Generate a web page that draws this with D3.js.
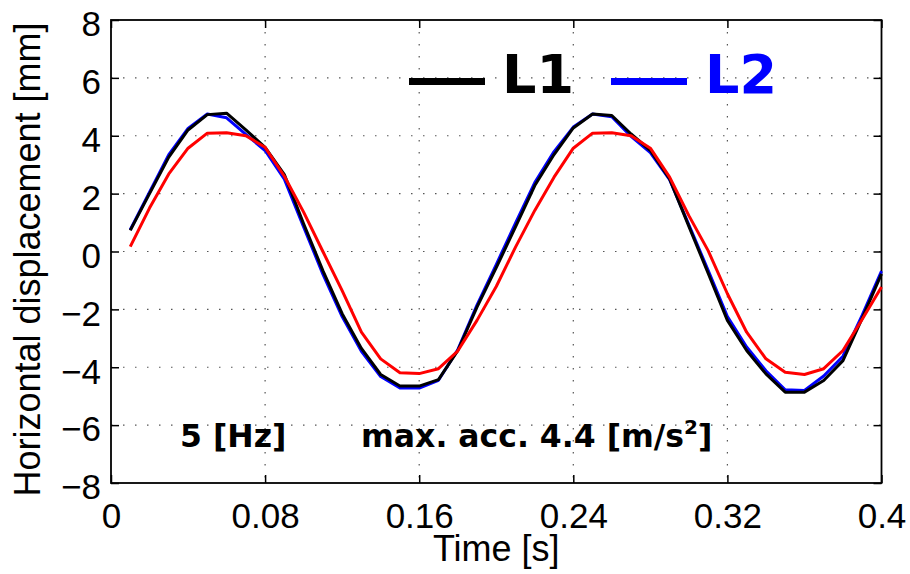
<!DOCTYPE html>
<html>
<head>
<meta charset="utf-8">
<script src="https://cdn.jsdelivr.net/npm/d3@7"></script>
<style>
  body { margin: 0; background: #fff; }
  svg { display: block; }
</style>
</head>
<body>
<div id="chart"></div>
<script>
// sample times [s]
var times = [0.01, 0.02, 0.03, 0.04, 0.05, 0.06, 0.07, 0.08, 0.09, 0.10,
             0.11, 0.12, 0.13, 0.14, 0.15, 0.16, 0.17, 0.18, 0.19, 0.20,
             0.21, 0.22, 0.23, 0.24, 0.25, 0.26, 0.27, 0.28, 0.29, 0.30,
             0.31, 0.32, 0.33, 0.34, 0.35, 0.36, 0.37, 0.38, 0.39, 0.40];

// L1 (black)
var l1 = [0.73, 2.00, 3.26, 4.20, 4.73, 4.78, 4.20, 3.60, 2.66, 0.96,
          -0.66, -2.15, -3.35, -4.25, -4.65, -4.65, -4.43, -3.43, -1.92, -0.56,
          0.85, 2.28, 3.35, 4.27, 4.75, 4.70, 4.06, 3.49, 2.51, 0.87,
          -0.75, -2.38, -3.42, -4.23, -4.86, -4.86, -4.46, -3.77, -2.30, -0.77];

// L2 (blue)
var l2 = [0.75, 2.05, 3.35, 4.25, 4.75, 4.62, 4.05, 3.49, 2.50, 0.85,
          -0.78, -2.25, -3.45, -4.32, -4.72, -4.72, -4.45, -3.40, -1.85, -0.45,
          0.98, 2.38, 3.45, 4.30, 4.75, 4.66, 3.98, 3.42, 2.48, 0.92,
          -0.65, -2.25, -3.30, -4.12, -4.78, -4.80, -4.30, -3.62, -2.20, -0.68];

// reference (red)
var ref = [0.17, 1.50, 2.68, 3.57, 4.09, 4.10, 4.00, 3.60, 2.60, 1.36,
           0.00, -1.35, -2.79, -3.71, -4.19, -4.22, -4.05, -3.44, -2.38, -1.21,
           0.15, 1.42, 2.57, 3.57, 4.09, 4.10, 4.00, 3.57, 2.57, 1.24,
           0.03, -1.46, -2.79, -3.71, -4.17, -4.25, -4.05, -3.42, -2.34, -1.23];

var xTicks = [0, 0.08, 0.16, 0.24, 0.32, 0.4];
var xTickLabels = ["0", "0.08", "0.16", "0.24", "0.32", "0.4"];
var yTicks = [-8, -6, -4, -2, 0, 2, 4, 6, 8];

var W = 910, H = 574;
var margin = {top: 20, right: 28.5, bottom: 91, left: 111},
    width = W - margin.left - margin.right,
    height = H - margin.top - margin.bottom;

var svg = d3.select("#chart")
  .append("svg")
    .attr("width", W)
    .attr("height", H)
    .attr("font-family", "'Liberation Sans', Arial, sans-serif");

var g = svg.append("g")
    .attr("transform", "translate(" + margin.left + "," + margin.top + ")");

var x = d3.scaleLinear().domain([0, 0.4]).range([0, width]);
var y = d3.scaleLinear().domain([-8, 8]).range([height, 0]);

// dotted grid
g.append("g").selectAll("line.gx")
  .data(xTicks.slice(1, -1))
  .enter().append("line")
    .attr("x1", function(d) { return x(d); })
    .attr("x2", function(d) { return x(d); })
    .attr("y1", 0).attr("y2", height)
    .attr("stroke", "#555").attr("stroke-width", 1.2)
    .attr("stroke-dasharray", "1.5,10.5");
g.append("g").selectAll("line.gy")
  .data(yTicks.slice(1, -1))
  .enter().append("line")
    .attr("y1", function(d) { return y(d); })
    .attr("y2", function(d) { return y(d); })
    .attr("x1", 0).attr("x2", width)
    .attr("stroke", "#555").attr("stroke-width", 1.2)
    .attr("stroke-dasharray", "1.5,10.5");

// axes: bottom/left with labels, top/right ticks only (all inward)
var tickFont = 35;
var xAxis = g.append("g")
    .attr("transform", "translate(0," + height + ")")
    .call(d3.axisBottom(x).tickValues(xTicks)
      .tickFormat(function(d, i) { return xTickLabels[i]; })
      .tickSizeInner(-8).tickSizeOuter(0).tickPadding(20));
var yAxis = g.append("g")
    .call(d3.axisLeft(y).tickValues(yTicks)
      .tickFormat(function(d) { return d < 0 ? "\u2212" + Math.abs(d) : d; })
      .tickSizeInner(-8).tickSizeOuter(0).tickPadding(10));
g.append("g")
    .call(d3.axisTop(x).tickValues(xTicks).tickFormat("")
      .tickSizeInner(-8).tickSizeOuter(0));
g.append("g")
    .attr("transform", "translate(" + width + ",0)")
    .call(d3.axisRight(y).tickValues(yTicks).tickFormat("")
      .tickSizeInner(-8).tickSizeOuter(0));

g.selectAll(".domain").remove();
g.selectAll(".tick line").attr("stroke", "#000").attr("stroke-width", 1.5);
xAxis.selectAll("text")
    .attr("font-size", tickFont).attr("font-family", "'Liberation Sans', Arial, sans-serif")
    .attr("fill", "#000").attr("dy", "0.71em");
yAxis.selectAll("text")
    .attr("font-size", tickFont).attr("font-family", "'Liberation Sans', Arial, sans-serif")
    .attr("fill", "#000").attr("dy", "0.45em");

// frame
g.append("rect")
    .attr("x", 0).attr("y", 0)
    .attr("width", width).attr("height", height)
    .attr("fill", "none").attr("stroke", "#000").attr("stroke-width", 1.8);

// lines
var line = d3.line()
    .x(function(d, i) { return x(times[i]); })
    .y(function(d) { return y(d); });

var series = [
  {values: l2, color: "#0000ff"},
  {values: l1, color: "#000000"},
  {values: ref, color: "#ff0000"}
];
g.selectAll("path.series")
  .data(series)
  .enter().append("path")
    .attr("class", "series")
    .attr("d", function(s) { return line(s.values); })
    .attr("fill", "none")
    .attr("stroke", function(s) { return s.color; })
    .attr("stroke-width", 3)
    .attr("stroke-linejoin", "round");

// legend
var legend = [
  {label: "L1", color: "#000000", x0: 409, x1: 485, tx: 502},
  {label: "L2", color: "#0000ff", x0: 611, x1: 687, tx: 705}
];
var lg = svg.append("g");
lg.selectAll("line")
  .data(legend)
  .enter().append("line")
    .attr("x1", function(d) { return d.x0; })
    .attr("x2", function(d) { return d.x1; })
    .attr("y1", 81.5).attr("y2", 81.5)
    .attr("stroke", function(d) { return d.color; })
    .attr("stroke-width", 7);
lg.selectAll("text")
  .data(legend)
  .enter().append("text")
    .attr("x", function(d) { return d.tx; })
    .attr("y", 93)
    .attr("font-family", "'DejaVu Sans', sans-serif")
    .attr("font-weight", "bold")
    .attr("font-size", 54)
    .attr("fill", function(d) { return d.color; })
    .text(function(d) { return d.label; });

// annotations
svg.append("text")
    .attr("x", 180).attr("y", 447)
    .attr("font-family", "'DejaVu Sans', sans-serif")
    .attr("font-weight", "bold").attr("font-size", 31.5)
    .text("5 [Hz]");
var acc = svg.append("text")
    .attr("x", 361).attr("y", 447)
    .attr("font-family", "'DejaVu Sans', sans-serif")
    .attr("font-weight", "bold").attr("font-size", 31.5);
acc.append("tspan").text("max. acc. 4.4 [m/s");
acc.append("tspan").attr("dy", -13).attr("font-size", 20).text("2");
acc.append("tspan").attr("dy", 13).text("]");

// axis labels
svg.append("text")
    .attr("x", margin.left + width / 2).attr("y", 561)
    .attr("text-anchor", "middle")
    .attr("font-size", 36)
    .text("Time [s]");
svg.append("text")
    .attr("transform", "translate(40," + (margin.top + height / 2 + 8) + ") rotate(-90)")
    .attr("text-anchor", "middle")
    .attr("font-size", 36)
    .text("Horizontal displacement [mm]");
</script>
</body>
</html>
